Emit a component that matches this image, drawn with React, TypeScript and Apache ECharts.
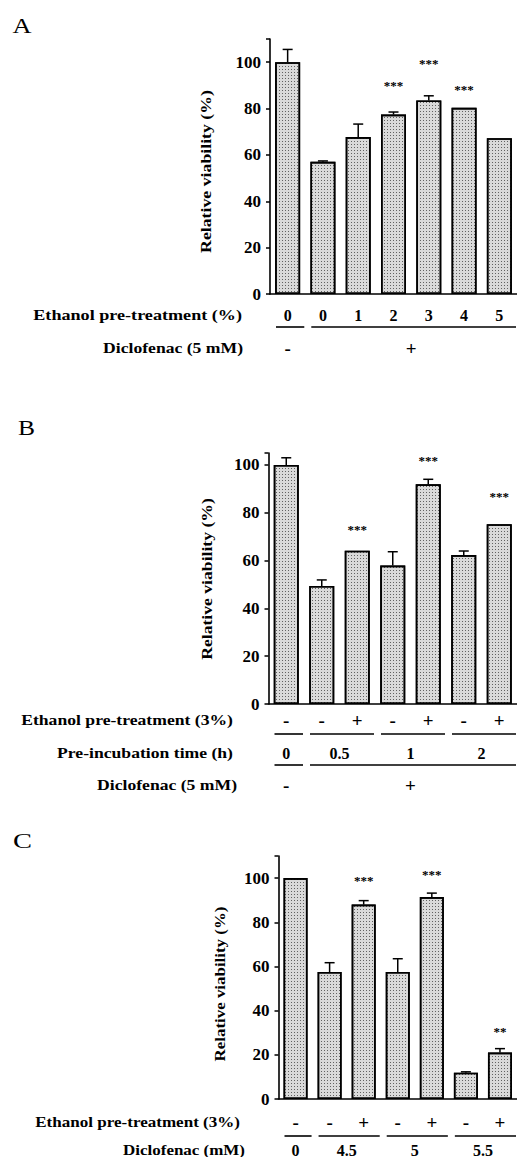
import React, { useEffect, useRef } from 'react';
import * as echarts from 'echarts';

const FONT = '"Liberation Serif", "Times New Roman", serif';

// ---------- Panel A ----------
const catsA = ['0', '0', '1', '2', '3', '4', '5'];
const valsA = [100, 57, 67.7, 77.4, 83.5, 80.3, 67.2];
const errA = [5.5, 0.4, 5.6, 1.1, 2, 0, 0];
const starTextA = ['', '', '', '***', '***', '***', ''];
const starPosA = [0, 0, 0, 90, 99.6, 88.4, 0];
const groupsA = [[0, 0], [1, 6]];
const diclofenacA = ['-', '+'];

// ---------- Panel B ----------
const catsB = ['-', '-', '+', '-', '+', '-', '+'];
const valsB = [100, 49.4, 64.1, 57.9, 91.9, 62.3, 75.2];
const errB = [3, 2.5, 0, 5.8, 2.1, 1.7, 0];
const starTextB = ['', '', '***', '', '***', '', '***'];
const starPosB = [0, 0, 73.2, 0, 102, 0, 86.7];
const timeGroupsB = [[0, 0], [1, 2], [3, 4], [5, 6]];
const timeLabelsB = ['0', '0.5', '1', '2'];
const dicGroupsB = [[0, 0], [1, 6]];
const diclofenacB = ['-', '+'];

// ---------- Panel C ----------
const catsC = ['-', '-', '+', '-', '+', '-', '+'];
const valsC = [100, 57.5, 88, 57.5, 91.4, 11.9, 21];
const errC = [0, 4.2, 1.8, 6, 1.8, 0.4, 1.8];
const starTextC = ['', '', '***', '', '***', '', '**'];
const starPosC = [0, 0, 99.1, 0, 101.8, 0, 30.5];
const doseGroupsC = [[0, 0], [1, 2], [3, 4], [5, 6]];
const doseLabelsC = ['0', '4.5', '5', '5.5'];

const yTitle = 'Relative viability (%)';

function measure(text: string, font: string): number {
  const c = document.createElement('canvas').getContext('2d');
  if (!c) return 1;
  c.font = font;
  return c.measureText(text).width || 1;
}

const BOLD15 = `bold 15px ${FONT}`;

function fitText(text: string, x: number, y: number, w: number, align: string, font = BOLD15, rotation = 0) {
  const m = measure(text, font);
  return {
    type: 'text',
    x,
    y,
    rotation,
    scaleX: w / m,
    silent: true,
    style: { text, font, fill: '#000', align, verticalAlign: 'middle' },
  };
}

function App() {
  const ref = useRef<HTMLDivElement>(null);

  useEffect(() => {
    if (!ref.current) return;
    const chart = echarts.init(ref.current, null, { renderer: 'svg' });

    const grids = [
      { left: 270, top: 39, width: 256.5, height: 255, max: 110, barW: 25 },
      { left: 268.5, top: 453, width: 256.2, height: 251, max: 105, barW: 25 },
      { left: 278.5, top: 856, width: 248.5, height: 243, max: 110, barW: 24 },
    ];
    const cats = [catsA, catsB, catsC];
    const vals = [valsA, valsB, valsC];
    const errs = [errA, errB, errC];
    const starTexts = [starTextA, starTextB, starTextC];
    const starPos = [starPosA, starPosB, starPosC];
    const catMargins = [21, 16, 23];
    const catFont = [16, 19, 19];

    const series: any[] = [];

    const groupSeries = (idx: number, groups: number[][], labels: string[] | null, offset: number, fs = 16) => ({
      type: 'custom',
      xAxisIndex: idx,
      yAxisIndex: idx,
      silent: true,
      clip: false,
      z: 5,
      data: groups.map((g) => [g[0], 0]),
      renderItem: (params: any, api: any) => {
        const g = groups[params.dataIndex];
        const a = api.coord([g[0], 0]);
        const b = api.coord([g[1], 0]);
        const bw = api.size([1, 0])[0];
        if (!labels) {
          return {
            type: 'line',
            shape: { x1: a[0] - bw / 2 + 6, y1: a[1] + offset, x2: b[0] + bw / 2 - 1, y2: a[1] + offset },
            style: { stroke: '#000', lineWidth: 1.6 },
          };
        }
        return {
          type: 'text',
          x: (a[0] + b[0]) / 2,
          y: a[1] + offset,
          style: {
            text: labels[params.dataIndex],
            font: `bold ${fs}px ${FONT}`,
            fill: '#000',
            align: 'center',
            verticalAlign: 'middle',
          },
        };
      },
    });

    for (let i = 0; i < 3; i++) {
      series.push({
        type: 'bar',
        xAxisIndex: i,
        yAxisIndex: i,
        data: vals[i],
        barWidth: grids[i].barW,
        itemStyle: {
          color: '#dadada',
          borderColor: '#000',
          borderWidth: 1.6,
          decal: {
            symbol: 'rect',
            symbolSize: 1,
            dashArrayX: [1, 2],
            dashArrayY: [1, 2],
            color: 'rgba(0,0,0,0.55)',
          },
        },
      });
      const v = vals[i];
      const e = errs[i];
      series.push({
        type: 'custom',
        xAxisIndex: i,
        yAxisIndex: i,
        silent: true,
        z: 4,
        data: v.map((val, k) => [k, val, e[k]]),
        renderItem: (_p: any, api: any) => {
          const x = api.value(0);
          const val = api.value(1);
          const er = api.value(2);
          if (!er) return null;
          const p0 = api.coord([x, val]);
          const p1 = api.coord([x, val + er]);
          return {
            type: 'group',
            children: [
              { type: 'line', shape: { x1: p0[0], y1: p0[1], x2: p1[0], y2: p1[1] }, style: { stroke: '#000', lineWidth: 1.5 } },
              { type: 'line', shape: { x1: p1[0] - 5, y1: p1[1], x2: p1[0] + 5, y2: p1[1] }, style: { stroke: '#000', lineWidth: 1.5 } },
            ],
          };
        },
      });
      const st = starTexts[i];
      const sp = starPos[i];
      series.push({
        type: 'custom',
        xAxisIndex: i,
        yAxisIndex: i,
        silent: true,
        clip: false,
        z: 6,
        data: sp.map((p, k) => [k, p]),
        renderItem: (params: any, api: any) => {
          const t = st[params.dataIndex];
          if (!t) return null;
          const pt = api.coord([api.value(0), api.value(1)]);
          return {
            type: 'text',
            x: pt[0],
            y: pt[1],
            style: {
              text: t,
              font: `bold 13px ${FONT}`,
              fill: '#000',
              align: 'center',
              verticalAlign: 'middle',
            },
          };
        },
      });
    }

    // rows below axes
    series.push(groupSeries(0, groupsA, null, 33));
    series.push(groupSeries(0, groupsA, diclofenacA, 54, 19));
    series.push(groupSeries(1, timeGroupsB, null, 30));
    series.push(groupSeries(1, timeGroupsB, timeLabelsB, 49));
    series.push(groupSeries(1, dicGroupsB, null, 61));
    series.push(groupSeries(1, dicGroupsB, diclofenacB, 81, 19));
    series.push(groupSeries(2, doseGroupsC, null, 37));
    series.push(groupSeries(2, doseGroupsC, doseLabelsC, 51));

    const graphic: any[] = [
      fitText('A', 22, 25, 19, 'center', `22px ${FONT}`),
      fitText('B', 26.5, 427.5, 17, 'center', `22px ${FONT}`),
      fitText('C', 22.5, 841, 19, 'center', `22px ${FONT}`),
      fitText('Ethanol pre-treatment (%)', 242, 315, 209, 'right'),
      fitText('Diclofenac (5 mM)', 243, 348, 140, 'right'),
      fitText('Ethanol pre-treatment (3%)', 233, 720, 212, 'right'),
      fitText('Pre-incubation time (h)', 233, 753, 176, 'right'),
      fitText('Diclofenac (5 mM)', 237, 785, 140, 'right'),
      fitText('Ethanol pre-treatment (3%)', 240, 1122, 205, 'right'),
      fitText('Diclofenac (mM)', 245, 1150, 122, 'right'),
      fitText(yTitle, 206, 171.5, 163, 'center', BOLD15, Math.PI / 2),
      fitText(yTitle, 207, 579, 162, 'center', BOLD15, Math.PI / 2),
      fitText(yTitle, 219.5, 984, 155, 'center', BOLD15, Math.PI / 2),
    ];

    chart.setOption({
      animation: false,
      backgroundColor: '#fff',
      grid: grids.map((g) => ({ left: g.left, top: g.top, width: g.width, height: g.height, containLabel: false })),
      xAxis: grids.map((_g, i) => ({
        type: 'category',
        gridIndex: i,
        data: cats[i],
        axisLine: { show: true, onZero: false, lineStyle: { color: '#000', width: 1.6 } },
        axisTick: { show: false },
        axisLabel: {
          interval: 0,
          color: '#000',
          fontFamily: FONT,
          fontWeight: 'bold',
          fontSize: catFont[i],
          margin: catMargins[i],
          verticalAlign: 'middle',
        },
        splitLine: { show: false },
      })),
      yAxis: grids.map((g, i) => ({
        type: 'value',
        gridIndex: i,
        min: 0,
        max: g.max,
        interval: 20,
        axisLine: { show: true, lineStyle: { color: '#000', width: 1.6 } },
        axisTick: { show: true, length: 4, lineStyle: { color: '#000', width: 1.5 } },
        axisLabel: {
          color: '#000',
          fontFamily: FONT,
          fontWeight: 'bold',
          fontSize: 17,
          margin: 9,
          formatter: (val: number) => (val % 20 === 0 ? String(val) : ''),
        },
        splitLine: { show: false },
      })),
      series,
      graphic,
    });

    return () => chart.dispose();
  }, []);

  return (
    <div
      ref={ref}
      style={{ position: 'absolute', left: 0, top: 0, width: 517, height: 1157, overflow: 'hidden', background: '#fff' }}
    />
  );
}

export default App;
